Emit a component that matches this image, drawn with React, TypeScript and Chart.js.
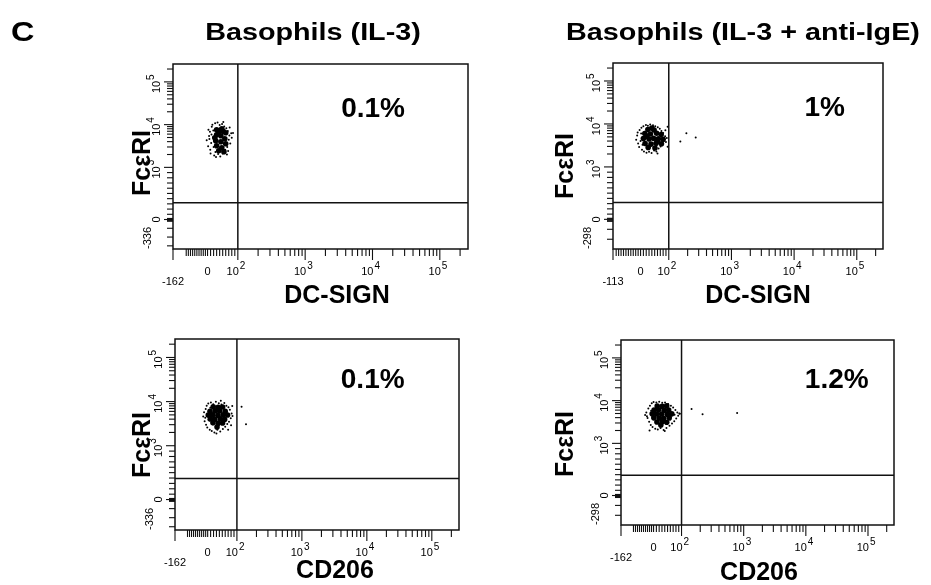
import React, { useEffect, useRef } from "react";
import { Chart, registerables } from "chart.js";
Chart.register(...registerables);

const FONT = '"Liberation Sans", Arial, Helvetica, sans-serif';

// ---------- text ----------
const FIGURE_LETTER = "C";
const COLUMN_TITLES = ["Basophils (IL-3)", "Basophils (IL-3 + anti-IgE)"];
const Y_AXIS_LABEL = "FcεRI";
const X_AXIS_LABELS = ["DC-SIGN", "DC-SIGN", "CD206", "CD206"];
const PERCENT_LABELS = ["0.1%", "1%", "0.1%", "1.2%"];

// ---------- axes ----------
const AXIS_MAX = 262144;
const X_MIN_VALUES = [-162, -113, -162, -162];
const Y_MIN_VALUES = [-336, -298, -336, -298];
const X_GATE = 100;
const Y_GATE_VALUES = [320, 320, 390, 390];
const X_DECADES = [100, 1000, 10000, 100000];
const Y_DECADES = [1000, 10000, 100000];
const X_LINEAR_MINOR = [-100, -90, -80, -70, -60, -50, -40, -30, -20, -10, 10, 20, 30, 40, 50, 60, 70, 80, 90];
const Y_LINEAR_MINOR = [-300, -200, -100, -20, -10, 10, 20, 100, 200, 300, 400, 500, 600, 700, 800, 900];
const LOG_MINOR_MULT = [2, 3, 4, 5, 6, 7, 8, 9];
const PERCENT_ANCHOR_X = [10200, 30800, 12300, 31400];
const PERCENT_ANCHOR_Y = [22300, 22600, 30800, 30300];

// ---------- events (DC-SIGN / CD206 vs FcεRI) ----------
// dense cores
const P1_CORE_X = [30, 47, 60, 30, 44, 57, 27, 44, 60, 30, 47, 37, 54, 24, 52, 38];
const P1_CORE_Y = [7600, 8030, 6470, 5810, 5510, 4690, 4210, 3980, 3580, 3210, 2880, 2450, 2330, 4940, 7000, 6900];
const P2_CORE_X = [26, 48, 15, 35, 57, 73, 10, 30, 46, 63, 80, 16, 37, 55, 74, 27, 51, 40, 22, 60];
const P2_CORE_Y = [7400, 7200, 6000, 5850, 6100, 5700, 4600, 4450, 4650, 4500, 4400, 3500, 3400, 3550, 3450, 2850, 2750, 8000, 5200, 3900];
const P3_CORE_X = [19, 36, 51, 8, 26, 41, 60, 2, 17, 35, 53, 68, 9, 24, 43, 58, 18, 36, 51, 32];
const P3_CORE_Y = [7600, 7450, 7550, 6050, 6150, 6100, 6000, 4950, 5000, 4900, 5050, 4950, 4050, 4000, 4100, 3950, 3300, 3250, 3280, 2650];
const P4_CORE_X = [13, 31, 47, 2, 18, 38, 54, -7, 11, 29, 49, 65, 1, 20, 36, 56, 12, 31, 47, 26];
const P4_CORE_Y = [7500, 7400, 7550, 6000, 6100, 5950, 6050, 4900, 4850, 4880, 4820, 4900, 3950, 3900, 3880, 3950, 3150, 3200, 3120, 2700];

// scattered events
const P1_EVENTS_X = [2, -4, 5, 9, 8, 12, 14, 10, 18, 16, 20, 22, 19, 25, 28, 33, 35, 40, 42, 48, 50, 55, 58, 62, 65, 67, 70, 72, 75, 78, 80, 84, 6, 13, 26, 64, 52, 3, 73, 68];
const P1_EVENTS_Y = [3100, 4300, 5400, 2600, 6800, 3700, 8900, 2100, 5000, 9900, 3000, 1900, 7300, 10800, 1750, 11200, 2050, 9800, 1800, 10300, 2100, 9000, 2600, 8200, 3000, 7100, 4400, 5600, 3600, 6300, 4900, 6400, 4600, 5900, 2300, 2000, 11500, 7600, 8600, 2400];
const P2_EVENTS_X = [-18, -14, -10, -12, -6, -4, 0, 3, 5, 8, 10, 12, 16, 19, 21, 26, 30, 34, 39, 44, 48, 52, 56, 61, 64, 68, 71, 74, 78, 80, 84, 87, 90, 93, 96, 96, 7, 88, 2, 60, 191, 269, 153];
const P2_EVENTS_Y = [4300, 5400, 3500, 6300, 2900, 7200, 4000, 8200, 2500, 5000, 8900, 2300, 6600, 9400, 2150, 9100, 2250, 9700, 2100, 9300, 2400, 8800, 2300, 8400, 2700, 7700, 3000, 6900, 3500, 6200, 4100, 5200, 3800, 4700, 8630, 2950, 3300, 7100, 6000, 2050, 6100, 4860, 3930];
const P3_EVENTS_X = [-22, -18, -15, -10, -8, -5, -2, 2, 5, 7, 11, 14, 19, 23, 28, 33, 38, 43, 47, 52, 57, 60, 64, 67, 71, 73, 76, 79, 82, 85, 84, 80, 3, -12, 45, 30, 70, 9, 118, 138];
const P3_EVENTS_Y = [4600, 5700, 3600, 6800, 3000, 8100, 2600, 9000, 5200, 2300, 9600, 2150, 8700, 2000, 9900, 2300, 9200, 2100, 8600, 2400, 9300, 2700, 8000, 3100, 7400, 3500, 6500, 4200, 5400, 4700, 7900, 2900, 3900, 4300, 10500, 1900, 2300, 7300, 7650, 3050];
const P4_EVENTS_X = [-42, -36, -30, -26, -22, -18, -14, -9, -5, 0, 4, 6, 10, 15, 20, 25, 31, 36, 41, 46, 52, 57, 62, 66, 70, 74, 78, 81, 85, 88, 92, 94, -33, -12, 60, 75, 40, -20, 145, 218, 785];
const P4_EVENTS_Y = [4600, 5300, 3900, 6500, 3200, 7600, 2700, 8700, 2400, 9300, 5500, 2200, 9000, 2100, 9400, 2300, 8900, 2050, 9100, 2300, 8300, 2600, 7600, 2900, 6900, 3300, 6000, 3800, 5300, 4400, 5000, 4900, 4300, 5800, 3600, 4700, 1950, 2000, 6370, 4790, 5130];

const CORE_X = [P1_CORE_X, P2_CORE_X, P3_CORE_X, P4_CORE_X];
const CORE_Y = [P1_CORE_Y, P2_CORE_Y, P3_CORE_Y, P4_CORE_Y];
const EVENTS_X = [P1_EVENTS_X, P2_EVENTS_X, P3_EVENTS_X, P4_EVENTS_X];
const EVENTS_Y = [P1_EVENTS_Y, P2_EVENTS_Y, P3_EVENTS_Y, P4_EVENTS_Y];

// ---------- layout (pixels) ----------
const W = 931;
const H = 585;
const LAYOUT = [
  { left: 173, top: 64, right: 468, bottom: 249, yTitleX: 150, yTitleY: 163, xTitleX: 337, xTitleY: 303, xNeg: 0.513 },
  { left: 613, top: 63, right: 883, bottom: 249, yTitleX: 573, yTitleY: 166, xTitleX: 758, xTitleY: 303, xNeg: 0.44 },
  { left: 175, top: 339, right: 459, bottom: 530, yTitleX: 150, yTitleY: 445, xTitleX: 335, xTitleY: 578, xNeg: 0.503 },
  { left: 621, top: 340, right: 894, bottom: 525, yTitleX: 573, yTitleY: 444, xTitleX: 759, xTitleY: 580, xNeg: 0.524 },
];
const Y_NEG = 0.69;

// biexponential-like display transforms
function makeTx(negSpan: number, xmin: number) {
  return (v: number) =>
    v >= 100 ? Math.log10(v) : v >= 0 ? 2 - (0.45 * (100 - v)) / 100 : 1.55 + (negSpan * v) / Math.abs(xmin);
}
function makeTy(negSpan: number, ymin: number) {
  return (v: number) =>
    v >= 1000 ? Math.log10(v) : v >= 0 ? 3 - (1.22 * (1000 - v)) / 1000 : 1.78 + (negSpan * v) / Math.abs(ymin);
}

function text(ctx: CanvasRenderingContext2D, s: string, x: number, y: number, font: string, align: CanvasTextAlign, sx = 1, rot = 0) {
  ctx.save();
  ctx.translate(x, y);
  if (rot) ctx.rotate(rot);
  ctx.scale(sx, 1);
  ctx.font = font;
  ctx.textAlign = align;
  ctx.textBaseline = "alphabetic";
  ctx.fillText(s, 0, 0);
  ctx.restore();
}

function line(ctx: CanvasRenderingContext2D, x1: number, y1: number, x2: number, y2: number) {
  ctx.beginPath();
  ctx.moveTo(x1, y1);
  ctx.lineTo(x2, y2);
  ctx.stroke();
}

function flowPlugin(i: number) {
  const L = LAYOUT[i];
  const tx = makeTx(L.xNeg, X_MIN_VALUES[i]);
  const ty = makeTy(Y_NEG, Y_MIN_VALUES[i]);
  return {
    id: "flow" + i,
    afterDatasetsDraw(chart: any) {
      const { ctx, chartArea: a } = chart;
      const xs = chart.scales.x;
      const ys = chart.scales.y;
      const px = (v: number) => xs.getPixelForValue(tx(v));
      const py = (v: number) => ys.getPixelForValue(ty(v));
      ctx.save();
      ctx.strokeStyle = "#111";
      ctx.fillStyle = "#000";
      ctx.lineWidth = 1.5;
      ctx.strokeRect(a.left, a.top, a.right - a.left, a.bottom - a.top);
      // gates
      const gx = px(X_GATE);
      line(ctx, gx, a.top, gx, a.bottom);
      const gy = py(Y_GATE_VALUES[i]);
      line(ctx, a.left, gy, a.right, gy);

      // x ticks
      ctx.lineWidth = 1.1;
      const xmin = X_MIN_VALUES[i];
      const xMajor = [xmin, ...X_DECADES];
      const xMinor = [...X_LINEAR_MINOR.filter((v) => v > xmin), 0];
      X_DECADES.forEach((d) => LOG_MINOR_MULT.forEach((m) => { if (!(d === 100000 && m > 2)) xMinor.push(d * m); }));
      xMajor.forEach((v) => line(ctx, px(v), a.bottom, px(v), a.bottom + 11));
      xMinor.forEach((v) => line(ctx, px(v), a.bottom, px(v), a.bottom + 7));

      // y ticks
      const ymin = Y_MIN_VALUES[i];
      const yMajor = [0, ...Y_DECADES];
      const yMinor = Y_LINEAR_MINOR.filter((v) => v > ymin);
      Y_DECADES.forEach((d) => LOG_MINOR_MULT.forEach((m) => { if (!(d === 100000 && m > 2)) yMinor.push(d * m); }));
      yMajor.forEach((v) => line(ctx, a.left, py(v), a.left - 9, py(v)));
      yMinor.forEach((v) => line(ctx, a.left, py(v), a.left - 6, py(v)));

      // x tick labels
      const lf = "11px " + FONT;
      const sf = "10px " + FONT;
      const xb = a.bottom + 26;
      X_DECADES.forEach((d) => {
        const p = px(d);
        text(ctx, "10", p + 1, xb, lf, "right");
        text(ctx, String(Math.round(Math.log10(d))), p + 2, xb - 6, sf, "left");
      });
      text(ctx, "0", px(0), xb, lf, "center");
      text(ctx, String(xmin), a.left, a.bottom + 36, lf, "center");

      // y tick labels (rotated)
      const yb = a.left - 13;
      const R = -Math.PI / 2;
      Y_DECADES.forEach((d) => {
        const p = py(d);
        ctx.save();
        ctx.translate(yb, p);
        ctx.rotate(R);
        ctx.font = lf;
        ctx.textAlign = "right";
        ctx.fillText("10", 1, 0);
        ctx.font = sf;
        ctx.textAlign = "left";
        ctx.fillText(String(Math.round(Math.log10(d))), 2, -6);
        ctx.restore();
      });
      text(ctx, "0", yb, py(0), lf, "center", 1, R);
      text(ctx, String(ymin), a.left - 22, a.bottom, lf, "left", 1, R);

      // axis titles
      const tf = "bold 25px " + FONT;
      text(ctx, X_AXIS_LABELS[i], L.xTitleX, L.xTitleY, tf, "center");
      text(ctx, Y_AXIS_LABEL, L.yTitleX, L.yTitleY, tf, "center", 1, R);

      // quadrant percentage
      ctx.save();
      ctx.font = "bold 28px " + FONT;
      ctx.textAlign = "center";
      ctx.textBaseline = "middle";
      ctx.fillText(PERCENT_LABELS[i], xs.getPixelForValue(tx(PERCENT_ANCHOR_X[i])), ys.getPixelForValue(ty(PERCENT_ANCHOR_Y[i])));
      ctx.restore();

      // figure titles (drawn once)
      if (i === 0) {
        text(ctx, FIGURE_LETTER, 11, 41, "bold 27px " + FONT, "left", 1.2);
        text(ctx, COLUMN_TITLES[0], 313, 40, "bold 23px " + FONT, "center", 1.25);
        text(ctx, COLUMN_TITLES[1], 743, 40, "bold 23px " + FONT, "center", 1.25);
      }
      ctx.restore();
    },
  };
}

function buildConfig(i: number): any {
  const L = LAYOUT[i];
  const tx = makeTx(L.xNeg, X_MIN_VALUES[i]);
  const ty = makeTy(Y_NEG, Y_MIN_VALUES[i]);
  const toPts = (xa: number[], ya: number[]) => xa.map((x, k) => ({ x: tx(x), y: ty(ya[k]) }));
  return {
    type: "scatter",
    data: {
      datasets: [
        { label: "core", data: toPts(CORE_X[i], CORE_Y[i]), pointRadius: 2.8, backgroundColor: "#000", borderWidth: 0 },
        { label: "events", data: toPts(EVENTS_X[i], EVENTS_Y[i]), pointRadius: 1, backgroundColor: "#000", borderWidth: 0 },
      ],
    },
    options: {
      animation: false,
      responsive: false,
      devicePixelRatio: 1,
      events: [],
      layout: { padding: { left: L.left, top: L.top, right: W - L.right, bottom: H - L.bottom } },
      scales: {
        x: { type: "linear", min: tx(X_MIN_VALUES[i]), max: Math.log10(AXIS_MAX), display: false },
        y: { type: "linear", min: ty(Y_MIN_VALUES[i]), max: Math.log10(AXIS_MAX), display: false },
      },
      plugins: { legend: { display: false }, tooltip: { enabled: false }, title: { display: false } },
    },
    plugins: [flowPlugin(i)],
  };
}

export default function App() {
  const r0 = useRef<HTMLCanvasElement>(null);
  const r1 = useRef<HTMLCanvasElement>(null);
  const r2 = useRef<HTMLCanvasElement>(null);
  const r3 = useRef<HTMLCanvasElement>(null);
  useEffect(() => {
    document.body.style.margin = "0";
    const refs = [r0, r1, r2, r3];
    const charts = refs.map((r, i) => new Chart(r.current as HTMLCanvasElement, buildConfig(i)));
    return () => charts.forEach((c) => c.destroy());
  }, []);
  const cs: React.CSSProperties = { position: "absolute", left: 0, top: 0, width: W, height: H };
  return (
    <div style={{ position: "relative", width: W, height: H, background: "#fff" }}>
      <canvas ref={r0} width={W} height={H} style={cs} />
      <canvas ref={r1} width={W} height={H} style={cs} />
      <canvas ref={r2} width={W} height={H} style={cs} />
      <canvas ref={r3} width={W} height={H} style={cs} />
    </div>
  );
}
